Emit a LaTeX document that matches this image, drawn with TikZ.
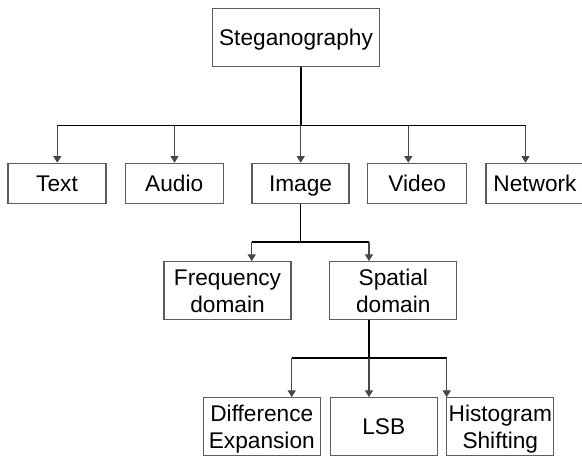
\documentclass[tikz,border=0pt]{standalone}
\usepackage{fontspec}
\setmainfont{Liberation Sans}
\usepackage{tikz}
\usetikzlibrary{arrows.meta,positioning}
\definecolor{stegoink}{HTML}{000000}
\definecolor{stegoframe}{HTML}{5C5C5C}
\definecolor{stegodrop}{HTML}{474747}

\begin{document}
\begin{tikzpicture}[x=0.75pt,y=-0.75pt,
  box/.style={draw=stegoframe,line width=0.8pt,inner sep=0pt,align=center,
              text=stegoink,text depth=0pt,font=\fontsize{17}{20.3}\selectfont},
  size/.style 2 args={minimum width=#1*0.75pt,minimum height=#2*0.75pt},
  trunk/.style={stegoink,line width=1.4pt},
  drop/.style={-{Triangle[length=5pt,width=6pt]},stegodrop,line width=0.8pt}]
  \useasboundingbox (0,0) rectangle (582,457);
  % boxes -- one row per level of the tree
  \node[box,size={166.6}{58.4}] (steg) at (296,37.5) {Steganography};
  \node[box,size={98}{40}]   (text)    at (57,183.3)    {Text};
  \node[box,size={98.3}{40}] (audio)   at (174.2,183.3) {Audio};
  \node[box,size={97}{40}]   (image)   at (300.5,183.3) {Image};
  \node[box,size={98.5}{40}] (video)   at (417.2,183.3) {Video};
  \node[box,size={98}{40}]   (network) at (535,183.3)   {Network};
  \node[box,size={127}{58.3}]   (freq) at (227.5,290.8) {Frequency\\domain};
  \node[box,size={126.7}{58.3}] (spat) at (393.3,290.8) {Spatial\\domain};
  \node[box,size={117}{58.3}]   (diff) at (261.8,426.8) {Difference\\Expansion};
  \node[box,size={107.3}{58.3}] (lsb)  at (383.7,426.8) {LSB};
  \node[box,size={107.3}{58.3}] (hist) at (500.3,426.8) {Histogram\\Shifting};
  % taps on the three buses
  \foreach \n/\x in {text/57.3,audio/174.5,image/300.7,video/408.3,network/525.5}
    \coordinate (tap-\n) at (\x,125.5);
  \foreach \n/\x in {freq/251.7,spat/369}
    \coordinate (tap-\n) at (\x,241.7);
  \foreach \n/\x in {diff/291.7,lsb/369,hist/446.7}
    \coordinate (tap-\n) at (\x,358.3);
  % trunks and buses
  \draw[trunk] (tap-image |- steg.south) -- (tap-image);
  \draw[trunk] (tap-text) -- (tap-network);
  \draw[trunk] (image.south) -- (image.south |- tap-freq);
  \draw[trunk] (tap-freq) -- (tap-spat);
  \draw[trunk] (tap-spat |- spat.south) -- (tap-lsb);
  \draw[trunk] (tap-diff) -- (tap-hist);
  % drops into the boxes
  \foreach \n in {text,audio,image,video,network,freq,spat,diff,lsb,hist}
    \draw[drop] (tap-\n) -- (tap-\n |- \n.north);
\end{tikzpicture}
\end{document}
